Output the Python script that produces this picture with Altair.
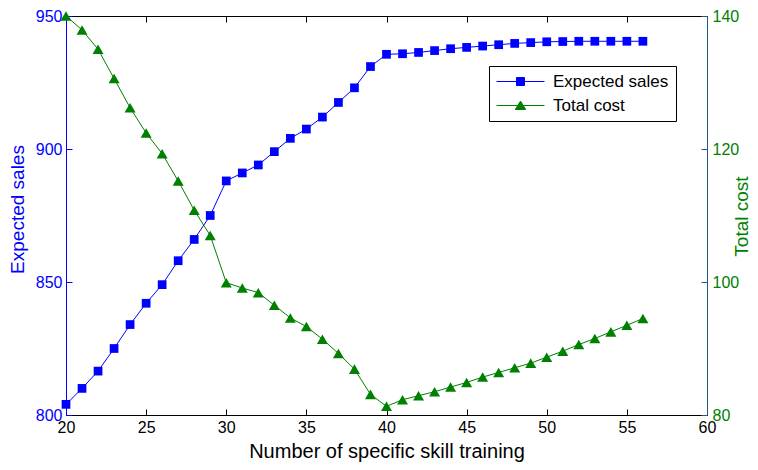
import altair as alt
import pandas as pd

# ---- data ----
x_vals = list(range(20, 57))
sales = [804, 810, 816.5, 825, 834, 842, 849, 858, 866, 875,
         888, 891, 894, 899, 904, 907.5, 912, 917.5, 923, 931,
         935.6, 935.8, 936.3, 937, 937.7, 938.2, 938.7, 939.2, 939.7, 940,
         940.3, 940.4, 940.5, 940.5, 940.5, 940.5, 940.5]
cost = [140, 137.9, 135, 130.6, 126.2, 122.4, 119.3, 115.2, 110.8, 107,
        99.9, 99.1, 98.4, 96.5, 94.6, 93.3, 91.4, 89.25, 86.9, 83.1,
        81.3, 82.3, 82.9, 83.5, 84.2, 84.9, 85.7, 86.4, 87.1, 87.8,
        88.7, 89.6, 90.6, 91.5, 92.5, 93.5, 94.5]
series_names = ["Expected sales", "Total cost"]
x_ticks = [20, 25, 30, 35, 40, 45, 50, 55, 60]
sales_ticks = [800, 850, 900, 950]
cost_ticks = [80, 100, 120, 140]

FONT = "Liberation Sans"
BLUE = "#0000ff"
GREEN = "#008000"
TEAL = "#1f5a78"

df = pd.DataFrame({"x": x_vals, "sales": sales, "cost": cost})
leg_df = pd.DataFrame({"series": series_names})

xscale = alt.Scale(domain=[20, 60], nice=False, zero=False)
s_scale = alt.Scale(domain=[800, 950], nice=False, zero=False)
c_scale = alt.Scale(domain=[80, 140], nice=False, zero=False)

base = alt.Chart(df)

# ---- blue series (left axis) ----
blue_line = base.mark_line(color=BLUE, strokeWidth=1).encode(
    x=alt.X("x:Q", scale=xscale, axis=alt.Axis(
        orient="bottom", values=x_ticks, domainColor="black", ticks=False,
        labels=False, grid=False, title="Number of specific skill training",
        titleY=46, titleBaseline="bottom", titleFontSize=20)),
    y=alt.Y("sales:Q", scale=s_scale, axis=alt.Axis(
        orient="left", values=sales_ticks, domainColor=BLUE, ticks=False,
        labels=False, grid=False, title="Expected sales", titleColor=BLUE,
        titleX=-49, titleY=193, titleAngle=270, titleAlign="center",
        titleBaseline="middle", titleFontSize=19)),
)
blue_pts = base.mark_point(shape="square", filled=True, size=76, color=BLUE, opacity=1).encode(
    x=alt.X("x:Q", scale=xscale, axis=alt.Axis(
        orient="bottom", offset=-6, tickSize=6, tickColor="black", domain=False,
        values=x_ticks, labelPadding=4, grid=False, title="", labelFlush=False,
        labelOverlap=False, labelColor="black")),
    y=alt.Y("sales:Q", scale=s_scale, axis=alt.Axis(
        orient="left", offset=-6, tickSize=6, tickColor=BLUE, domain=False,
        values=sales_ticks, labelPadding=4, grid=False, title="", labelColor=BLUE,
        labelFlush=False, labelOverlap=False, labelBound=False)),
)
blue = alt.layer(blue_line, blue_pts).resolve_axis(x="independent", y="independent")

# ---- green series (right axis) ----
green_line = base.mark_line(color=GREEN, strokeWidth=1).encode(
    x=alt.X("x:Q", scale=xscale, axis=None),
    y=alt.Y("cost:Q", scale=c_scale, axis=alt.Axis(
        orient="right", values=cost_ticks, domainColor=TEAL, ticks=False,
        labels=False, grid=False, title="Total cost", titleColor=GREEN,
        titleX=34, titleY=200, titleAngle=270, titleAlign="center",
        titleBaseline="middle", titleFontSize=19)),
)
green_pts = base.mark_point(shape="triangle-up", filled=True, size=121, color=GREEN, opacity=1).encode(
    x=alt.X("x:Q", scale=xscale, axis=alt.Axis(
        orient="top", offset=-6, tickSize=6, tickColor="black", domain=False,
        values=x_ticks, labels=False, grid=False, title="")),
    y=alt.Y("cost:Q", scale=c_scale, axis=alt.Axis(
        orient="right", offset=-6, tickSize=6, tickColor=TEAL, domain=False,
        values=cost_ticks, labelPadding=5, grid=False, title="", labelColor=GREEN,
        labelFlush=False, labelOverlap=False, labelBound=False)),
)
green = alt.layer(green_line, green_pts).resolve_axis(x="independent", y="independent")

# ---- legend (line + marker symbols) ----
sq_path = "M-6,0H6M-1,-1H1V1H-1Z"
tri_path = "M-6,0H6M0,-1.1L1.3,1H-1.3Z"
leg = alt.Legend(
    title=None, orient="none", legendX=423, legendY=50, padding=7,
    fillColor="white", strokeColor="black", cornerRadius=0,
    symbolOffset=16, labelOffset=24, labelFont=FONT, labelFontSize=17,
    labelColor="black", rowPadding=6, symbolOpacity=1, symbolStrokeWidth=1,
    symbolSize=64,
)
legend_layer = alt.Chart(leg_df).mark_point(filled=False, opacity=0, size=64, strokeWidth=1).encode(
    shape=alt.Shape("series:N", scale=alt.Scale(domain=series_names, range=[sq_path, tri_path]), legend=leg),
    stroke=alt.Stroke("series:N", scale=alt.Scale(domain=series_names, range=[BLUE, GREEN]), legend=leg),
    fill=alt.Fill("series:N", scale=alt.Scale(domain=series_names, range=[BLUE, GREEN]), legend=leg),
)

chart = alt.layer(blue, green, legend_layer).resolve_scale(
    y="independent"
).resolve_axis(
    x="independent", y="independent"
).properties(
    width=641, height=399,
    autosize=alt.AutoSizeParams(type="none"),
    padding={"left": 58, "top": 8, "right": 43, "bottom": 47},
    background="white",
).configure_view(
    stroke="black", strokeWidth=1
).configure_axis(
    labelFont=FONT, labelFontSize=16, titleFont=FONT, titleFontWeight="normal",
    labelColor="black", domainWidth=1, tickWidth=1
)

chart.save("out.html", embed_options={"renderer": "svg", "actions": False})
